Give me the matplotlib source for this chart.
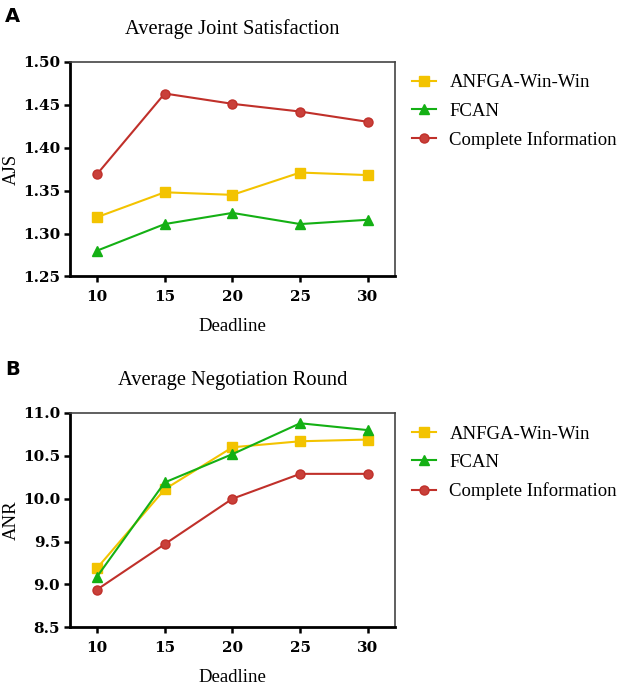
import matplotlib
matplotlib.use("Agg")
import matplotlib.pyplot as plt

plt.rcParams['font.family'] = ['Liberation Serif', 'DejaVu Serif']

deadline = [10, 15, 20, 25, 30]
series = ['ANFGA-Win-Win', 'FCAN', 'Complete Information']

ajs_anfga = [1.319, 1.348, 1.345, 1.371, 1.368]
ajs_fcan = [1.280, 1.311, 1.324, 1.311, 1.316]
ajs_complete = [1.369, 1.463, 1.451, 1.442, 1.430]

anr_anfga = [9.19, 10.11, 10.60, 10.67, 10.69]
anr_fcan = [9.09, 10.19, 10.52, 10.88, 10.80]
anr_complete = [8.94, 9.47, 10.00, 10.29, 10.29]

yellow = '#F3C300'
green = '#14B014'
red = '#C0302A'
red_face = '#C9403A'

styles = [
    dict(color=yellow, marker='s', markersize=6.5, markerfacecolor=yellow, markeredgecolor=yellow),
    dict(color=green, marker='^', markersize=7.5, markerfacecolor=green, markeredgecolor=green),
    dict(color=red, marker='o', markersize=6.5, markerfacecolor=red_face, markeredgecolor=red),
]

fig = plt.figure(figsize=(6.24, 6.86), dpi=100)
axA = fig.add_axes([0.112, 0.597, 0.521, 0.313])
axB = fig.add_axes([0.112, 0.0855, 0.521, 0.3125])


def draw(ax, data, title, ylabel, ylim, yticks, fmt, letter, lab_y):
    for vals, name, st in zip(data, series, styles):
        ax.plot(deadline, vals, label=name, linewidth=1.5, **st)
    ax.set_xlim(8, 32)
    ax.set_ylim(*ylim)
    ax.set_xticks(deadline)
    ax.set_yticks(yticks)
    ax.set_yticklabels([fmt.format(v) for v in yticks])
    for lab in ax.get_xticklabels() + ax.get_yticklabels():
        lab.set_fontweight('bold')
        lab.set_fontsize(11)
        lab.set_family('DejaVu Serif')
    ax.tick_params(axis='both', width=1.8, length=4, direction='out', color='black', pad=3)
    ax.tick_params(axis='x', pad=6)
    ax.spines['left'].set_linewidth(2.0)
    ax.spines['bottom'].set_linewidth(2.0)
    ax.spines['top'].set_linewidth(1.2)
    ax.spines['right'].set_linewidth(1.2)
    ax.spines['top'].set_color('#444444')
    ax.spines['right'].set_color('#444444')
    ax.set_xlabel('Deadline', fontsize=13.5, labelpad=10)
    ax.set_ylabel(ylabel, fontsize=13.5)
    ax.yaxis.set_label_coords(-0.155, 0.5)
    ax.set_title(title, fontsize=14.8, pad=20)
    ax.legend(loc='upper left', bbox_to_anchor=(1.0, 1.02), frameon=False,
              fontsize=13.5, handlelength=1.3, labelspacing=0.6, handletextpad=0.7)
    fig.text(0.008, lab_y, letter, fontsize=14, fontweight='bold',
             family='DejaVu Sans', va='top')


draw(axA, [ajs_anfga, ajs_fcan, ajs_complete], 'Average Joint Satisfaction', 'AJS',
     (1.25, 1.50), [1.25, 1.30, 1.35, 1.40, 1.45, 1.50], '{:.2f}', 'A', 0.99)
draw(axB, [anr_anfga, anr_fcan, anr_complete], 'Average Negotiation Round', 'ANR',
     (8.5, 11.0), [8.5, 9.0, 9.5, 10.0, 10.5, 11.0], '{:.1f}', 'B', 0.475)

fig.savefig('out.png', dpi=100)
